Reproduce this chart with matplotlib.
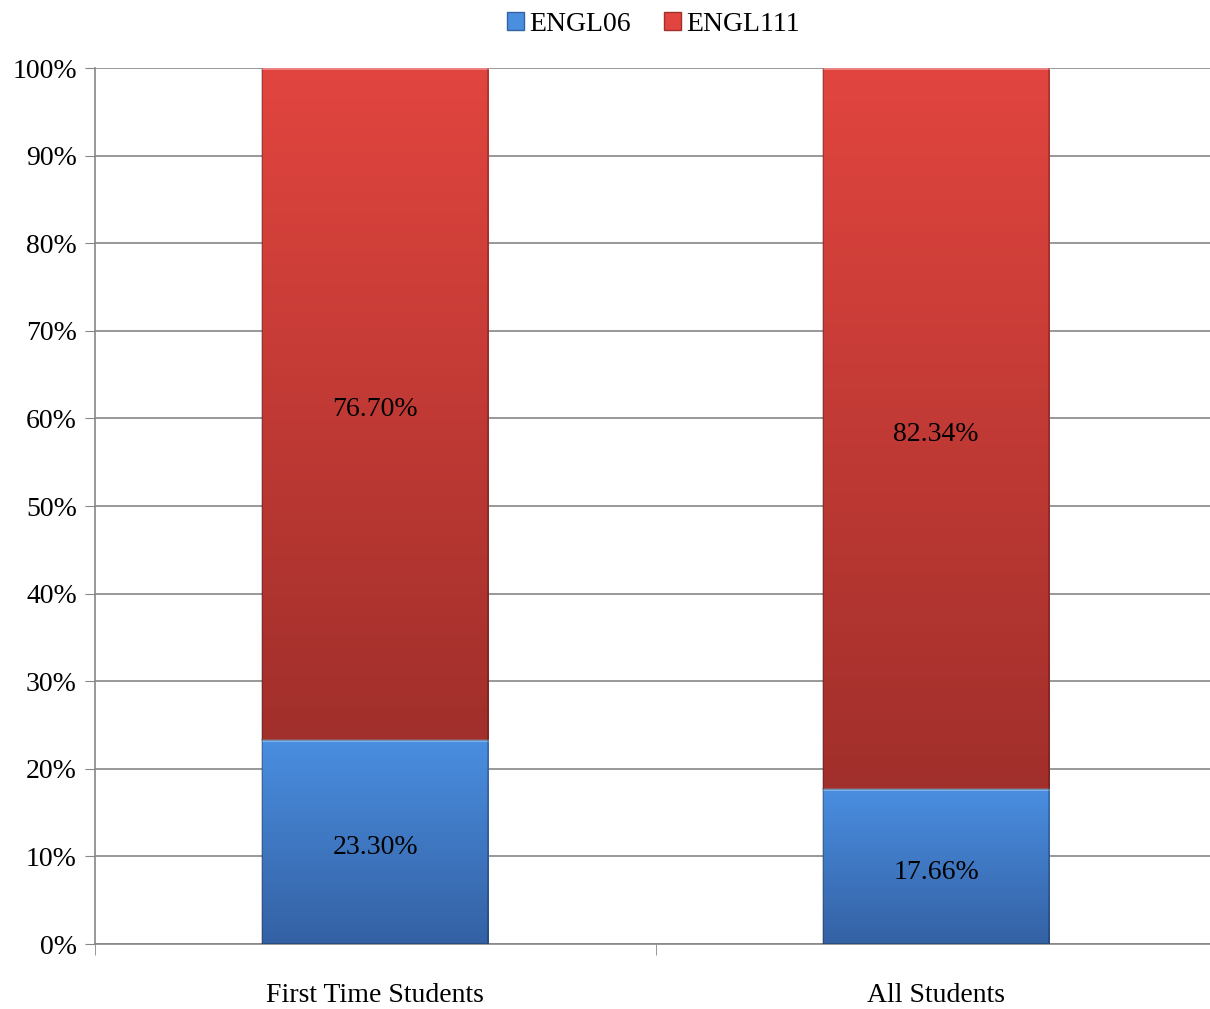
import numpy as np
import matplotlib as mpl
mpl.use('Agg')
import matplotlib.pyplot as plt
from matplotlib.colors import LinearSegmentedColormap
from matplotlib.patches import Patch

plt.rcParams['font.family'] = ['Liberation Serif', 'DejaVu Serif']

categories = ['First Time Students', 'All Students']
engl06 = [23.30, 17.66]
engl111 = [76.70, 82.34]
series_names = ['ENGL06', 'ENGL111']

# gradient colours (top, bottom)
blue_top, blue_bot = '#4A8EE0', '#3461A4'
red_top, red_bot = '#E2453F', '#A12F2B'

fig = plt.figure(figsize=(12.1, 10.09), dpi=100)
ax = fig.add_axes([0.0785, 0.0644, 0.927, 0.8682])

x = np.arange(len(categories))
w = 0.403
b1 = ax.bar(x, engl06, w, color=blue_bot, zorder=3)
b2 = ax.bar(x, engl111, w, bottom=engl06, color=red_bot, zorder=3)


def shade(bars, top, bot):
    cmap = LinearSegmentedColormap.from_list('g', [bot, top])
    grad = np.linspace(0, 1, 256).reshape(-1, 1)
    for p in bars:
        x0, y0 = p.get_x(), p.get_y()
        x1, y1 = x0 + p.get_width(), y0 + p.get_height()
        im = ax.imshow(grad, cmap=cmap, origin='lower', aspect='auto',
                       extent=(x0, x1, y0, y1), zorder=4)
        im.set_clip_path(p)
        ax.plot([x0, x1], [y1, y1], color='white', alpha=0.35, lw=2, zorder=5)
        ax.plot([x0, x0, x1, x1], [y1, y0, y0, y1], color='black', alpha=0.25,
                lw=1.2, zorder=5)


shade(b1, blue_top, blue_bot)
shade(b2, red_top, red_bot)

for i in range(len(categories)):
    ax.annotate('%.2f%%' % engl06[i], (x[i], engl06[i] / 2), xytext=(0, -4),
                textcoords='offset points', ha='center', va='center',
                fontsize=20, zorder=6)
    ax.annotate('%.2f%%' % engl111[i], (x[i], engl06[i] + engl111[i] / 2),
                xytext=(0, -4), textcoords='offset points', ha='center',
                va='center', fontsize=20, zorder=6)

ax.set_xlim(-0.5, 1.5)
ax.set_ylim(0, 100)
ax.set_yticks(np.arange(0, 101, 10))
ax.set_yticklabels(['%d%%' % v for v in range(0, 101, 10)], fontsize=20)
ax.set_xticks(x)
ax.set_xticklabels(categories, fontsize=20)
ax.set_xticks([-0.5, 0.5, 1.5], minor=True)
ax.tick_params(axis='x', which='major', length=0, pad=28)
ax.tick_params(axis='x', which='minor', length=8, color='#868686', direction='out')
ax.tick_params(axis='y', length=7, color='#868686', pad=6)
ax.grid(axis='y', color='#868686', lw=1.2, zorder=0)
for s in ['top', 'right']:
    ax.spines[s].set_visible(False)
for s in ['left', 'bottom']:
    ax.spines[s].set_color('#868686')
    ax.spines[s].set_linewidth(1.2)

handles = [Patch(facecolor=blue_top, edgecolor=blue_bot),
           Patch(facecolor=red_top, edgecolor=red_bot)]
fig.legend(handles, series_names, loc='upper center', ncol=2, frameon=False,
           fontsize=20, handlelength=0.6, handleheight=0.6, handletextpad=0.2,
           columnspacing=1.2, bbox_to_anchor=(0.54, 1.013))

fig.savefig('out.png', dpi=100)
